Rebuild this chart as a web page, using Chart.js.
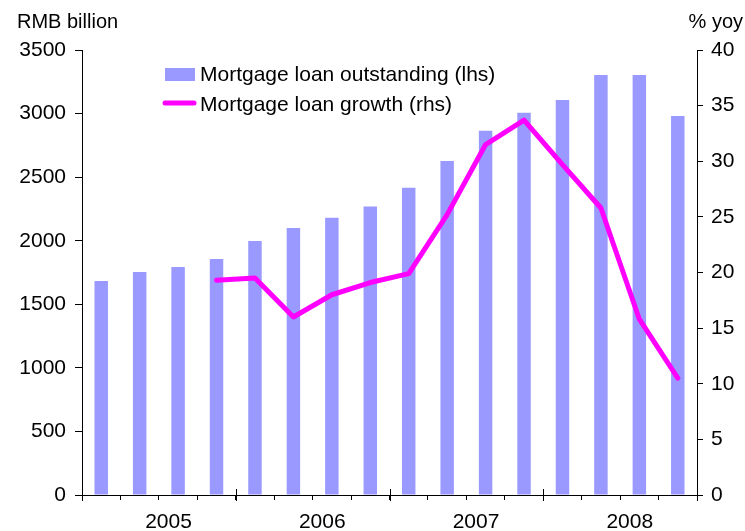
<!DOCTYPE html>
<html>
<head>
<meta charset="utf-8">
<title>Mortgage loans</title>
<script src="https://cdn.jsdelivr.net/npm/chart.js@4.4.1/dist/chart.umd.min.js"></script>
<style>
  html, body { margin: 0; padding: 0; background: #fff; }
</style>
</head>
<body>
<canvas id="mortgageChart" width="745" height="531"></canvas>
<script>
// quarterly data, 1Q05 - 4Q08
const quarters = [
  '1Q05', '2Q05', '3Q05', '4Q05',
  '1Q06', '2Q06', '3Q06', '4Q06',
  '1Q07', '2Q07', '3Q07', '4Q07',
  '1Q08', '2Q08', '3Q08', '4Q08'
];
const years = ['2005', '2006', '2007', '2008'];

// RMB billion
const loanOutstanding = [
  1683, 1754, 1793, 1856,
  1998, 2100, 2180, 2270,
  2417, 2627, 2865, 3007,
  3107, 3303, 3303, 2981
];
// % yoy
const loanGrowth = [
  null, null, null, 19.3,
  19.5, 16.0, 18.0, 19.1,
  19.9, 25.2, 31.5, 33.7,
  29.7, 25.8, 15.8, 10.5
];

const leftAxisTitle = 'RMB billion';
const rightAxisTitle = '% yoy';
const barLabel = 'Mortgage loan outstanding (lhs)';
const lineLabel = 'Mortgage loan growth (rhs)';

const FAMILY = '"Liberation Sans", Arial, sans-serif';
const BAR_COLOR = '#9999ff';
const LINE_COLOR = '#ff00ff';

// axis titles, year labels, long year ticks and the legend
const decor = {
  id: 'decor',
  afterDraw(chart) {
    const ctx = chart.ctx;
    const x = chart.scales.x;
    const area = chart.chartArea;
    const step = x.getPixelForValue(1) - x.getPixelForValue(0);
    ctx.save();
    ctx.fillStyle = '#000';
    ctx.textBaseline = 'alphabetic';

    ctx.font = '20px ' + FAMILY;
    ctx.textAlign = 'left';
    ctx.fillText(leftAxisTitle, 17, 28);
    ctx.textAlign = 'right';
    ctx.fillText(rightAxisTitle, 743, 28);

    // year groups of four quarters
    ctx.font = '21px ' + FAMILY;
    ctx.strokeStyle = '#000';
    ctx.lineWidth = 1;
    ctx.textAlign = 'center';
    years.forEach((yr, i) => {
      const first = x.getPixelForValue(i * 4);
      const last = x.getPixelForValue(i * 4 + 3);
      ctx.fillText(yr, (first + last) / 2 + step / 4, 528);
    });
    for (let i = 0; i <= years.length; i++) {
      let px;
      if (i === 0) px = area.left;
      else if (i === years.length) px = area.right;
      else px = (x.getPixelForValue(i * 4 - 1) + x.getPixelForValue(i * 4)) / 2;
      px = Math.round(px) + 0.5;
      ctx.beginPath();
      ctx.moveTo(px, area.bottom - 6);
      ctx.lineTo(px, area.bottom + 6);
      ctx.stroke();
    }

    // legend
    const bars = chart.data.datasets[1];
    const line = chart.data.datasets[0];
    ctx.textAlign = 'left';
    ctx.fillStyle = bars.backgroundColor;
    ctx.fillRect(165, 68, 30, 13);
    ctx.fillStyle = '#000';
    ctx.fillText(bars.label, 200, 81);

    ctx.strokeStyle = line.borderColor;
    ctx.lineWidth = 5;
    ctx.lineCap = 'round';
    ctx.beginPath();
    ctx.moveTo(165, 103);
    ctx.lineTo(194, 103);
    ctx.stroke();
    ctx.fillText(line.label, 200, 111);
    ctx.restore();
  }
};

const tickFont = { family: FAMILY, size: 21 };

new Chart(document.getElementById('mortgageChart'), {
  data: {
    labels: quarters,
    datasets: [
      {
        type: 'line',
        label: lineLabel,
        data: loanGrowth,
        yAxisID: 'y1',
        borderColor: LINE_COLOR,
        borderWidth: 5,
        borderJoinStyle: 'round',
        borderCapStyle: 'round',
        pointRadius: 0,
        tension: 0,
        order: 0
      },
      {
        type: 'bar',
        label: barLabel,
        data: loanOutstanding,
        yAxisID: 'y',
        backgroundColor: BAR_COLOR,
        categoryPercentage: 1,
        barPercentage: 0.35,
        order: 1
      }
    ]
  },
  options: {
    responsive: false,
    animation: false,
    layout: { padding: { top: 50, left: 0, right: 0, bottom: 0 } },
    plugins: {
      legend: { display: false },
      tooltip: { enabled: false }
    },
    scales: {
      x: {
        offset: true,
        grid: { offset: true, drawOnChartArea: false, tickLength: 5, color: '#000' },
        border: { color: '#000' },
        ticks: { display: false },
        afterFit: s => { s.height = 36; }
      },
      y: {
        position: 'left',
        min: 0,
        max: 3500,
        ticks: { stepSize: 500, color: '#000', font: tickFont, padding: 9, callback: v => String(v) },
        grid: { drawOnChartArea: false, tickLength: 7, color: '#000' },
        border: { color: '#000' },
        afterFit: s => { s.width = 82; }
      },
      y1: {
        position: 'right',
        min: 0,
        max: 40,
        ticks: { stepSize: 5, color: '#000', font: tickFont, padding: 8 },
        grid: { drawOnChartArea: false, tickLength: 6, color: '#000' },
        border: { color: '#000' },
        afterFit: s => { s.width = 48; }
      }
    }
  },
  plugins: [decor]
});
</script>
</body>
</html>
